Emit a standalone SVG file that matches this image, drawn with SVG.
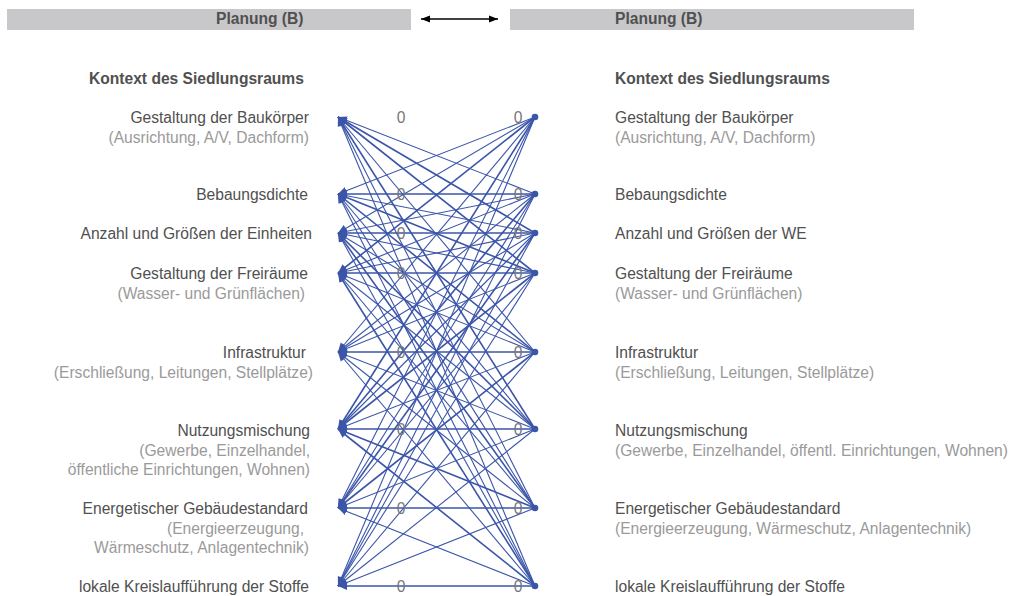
<svg xmlns="http://www.w3.org/2000/svg" width="1017" height="596" viewBox="0 0 1017 596">
  <style>
    .bar { fill: #c8c8ca; }
    .hdr { font-family: "Liberation Sans", Arial, sans-serif; font-size: 15.6px; font-weight: bold; fill: #505050; }
    .lbl { font-family: "Liberation Sans", Arial, sans-serif; font-size: 15.6px; fill: #505050; }
    .sub { font-family: "Liberation Sans", Arial, sans-serif; font-size: 15.6px; fill: #9a9a9a; }
    .zero { font-family: "Liberation Sans", Arial, sans-serif; font-size: 15.6px; fill: #777; text-anchor: middle; }
    .l { text-anchor: end; }
    .edges line { stroke: #3b55a9; stroke-width: 1.1; marker-end: url(#tip); }
    .edges line.w { stroke-width: 1.6; }
    .dot { fill: #3b55a9; }
  </style>
  <defs>
    <marker id="tip" markerUnits="userSpaceOnUse" markerWidth="11" markerHeight="11" refX="9" refY="5.5" orient="auto">
      <path d="M0,1.5 L9,5.5 L0,9.5 z" fill="#3b55a9"/>
    </marker>
    <marker id="blk" markerUnits="userSpaceOnUse" markerWidth="10" markerHeight="10" refX="9" refY="5" orient="auto-start-reverse">
      <path d="M0,1.5 L9,5 L0,8.5 z" fill="#000"/>
    </marker>
  </defs>

  <!-- header bars -->
  <g id="header-left">
    <rect class="bar" x="7" y="9" width="404" height="21"/>
    <text class="hdr" x="216" y="24">Planung (B)</text>
  </g>
  <g id="header-right">
    <rect class="bar" x="510" y="9" width="404" height="21"/>
    <text class="hdr" x="615" y="24">Planung (B)</text>
  </g>
  <g id="header-arrow">
    <line x1="421" y1="19" x2="498" y2="19" stroke="#000" stroke-width="1.4" marker-start="url(#blk)" marker-end="url(#blk)"/>
  </g>

  <!-- column titles -->
  <text class="hdr" x="89" y="84">Kontext des Siedlungsraums</text>
  <text class="hdr" x="615" y="84">Kontext des Siedlungsraums</text>

  <!-- connectors: every right node points to every left node -->
  <g id="connectors" class="edges">
    <line x1="535" y1="117" x2="338" y2="194"/>
    <line x1="535" y1="117" x2="338" y2="233"/>
    <line x1="535" y1="117" x2="338" y2="273" class="w"/>
    <line x1="535" y1="117" x2="338" y2="352"/>
    <line x1="535" y1="117" x2="338" y2="429" class="w"/>
    <line x1="535" y1="117" x2="338" y2="508"/>
    <line x1="535" y1="117" x2="338" y2="586"/>

    <line x1="535" y1="194" x2="338" y2="117"/>
    <line x1="535" y1="194" x2="338" y2="194" class="w"/>
    <line x1="535" y1="194" x2="338" y2="233"/>
    <line x1="535" y1="194" x2="338" y2="273"/>
    <line x1="535" y1="194" x2="338" y2="352"/>
    <line x1="535" y1="194" x2="338" y2="429" class="w"/>
    <line x1="535" y1="194" x2="338" y2="508"/>
    <line x1="535" y1="194" x2="338" y2="586"/>

    <line x1="535" y1="233" x2="338" y2="117" class="w"/>
    <line x1="535" y1="233" x2="338" y2="194"/>
    <line x1="535" y1="233" x2="338" y2="233" class="w"/>
    <line x1="535" y1="233" x2="338" y2="273"/>
    <line x1="535" y1="233" x2="338" y2="352"/>
    <line x1="535" y1="233" x2="338" y2="429"/>
    <line x1="535" y1="233" x2="338" y2="508" class="w"/>
    <line x1="535" y1="233" x2="338" y2="586"/>

    <line x1="535" y1="273" x2="338" y2="117" class="w"/>
    <line x1="535" y1="273" x2="338" y2="194" class="w"/>
    <line x1="535" y1="273" x2="338" y2="233"/>
    <line x1="535" y1="273" x2="338" y2="273" class="w"/>
    <line x1="535" y1="273" x2="338" y2="352"/>
    <line x1="535" y1="273" x2="338" y2="429" class="w"/>
    <line x1="535" y1="273" x2="338" y2="508"/>
    <line x1="535" y1="273" x2="338" y2="586"/>

    <line x1="535" y1="352" x2="338" y2="117"/>
    <line x1="535" y1="352" x2="338" y2="194" class="w"/>
    <line x1="535" y1="352" x2="338" y2="233"/>
    <line x1="535" y1="352" x2="338" y2="273"/>
    <line x1="535" y1="352" x2="338" y2="352" class="w"/>
    <line x1="535" y1="352" x2="338" y2="429"/>
    <line x1="535" y1="352" x2="338" y2="508" class="w"/>
    <line x1="535" y1="352" x2="338" y2="586"/>

    <line x1="535" y1="429" x2="338" y2="117" class="w"/>
    <line x1="535" y1="429" x2="338" y2="194"/>
    <line x1="535" y1="429" x2="338" y2="233" class="w"/>
    <line x1="535" y1="429" x2="338" y2="273"/>
    <line x1="535" y1="429" x2="338" y2="352"/>
    <line x1="535" y1="429" x2="338" y2="429" class="w"/>
    <line x1="535" y1="429" x2="338" y2="508"/>
    <line x1="535" y1="429" x2="338" y2="586"/>

    <line x1="535" y1="508" x2="338" y2="117"/>
    <line x1="535" y1="508" x2="338" y2="194"/>
    <line x1="535" y1="508" x2="338" y2="233" class="w"/>
    <line x1="535" y1="508" x2="338" y2="273"/>
    <line x1="535" y1="508" x2="338" y2="352"/>
    <line x1="535" y1="508" x2="338" y2="429" class="w"/>
    <line x1="535" y1="508" x2="338" y2="508" class="w"/>
    <line x1="535" y1="508" x2="338" y2="586"/>

    <line x1="535" y1="586" x2="338" y2="117"/>
    <line x1="535" y1="586" x2="338" y2="194"/>
    <line x1="535" y1="586" x2="338" y2="233"/>
    <line x1="535" y1="586" x2="338" y2="273" class="w"/>
    <line x1="535" y1="586" x2="338" y2="352"/>
    <line x1="535" y1="586" x2="338" y2="429" class="w"/>
    <line x1="535" y1="586" x2="338" y2="508"/>
    <line x1="535" y1="586" x2="338" y2="586" class="w"/>
  </g>

  <!-- right-hand source points -->
  <g id="source-points">
    <circle class="dot" cx="535" cy="117" r="3.3"/>
    <circle class="dot" cx="535" cy="194" r="3.3"/>
    <circle class="dot" cx="535" cy="233" r="3.3"/>
    <circle class="dot" cx="535" cy="273" r="3.3"/>
    <circle class="dot" cx="535" cy="352" r="3.3"/>
    <circle class="dot" cx="535" cy="429" r="3.3"/>
    <circle class="dot" cx="535" cy="508" r="3.3"/>
    <circle class="dot" cx="535" cy="586" r="3.3"/>
  </g>

  <!-- edge weights -->
  <g id="weights">
    <text class="zero" x="401" y="123">0</text><text class="zero" x="518" y="123">0</text>
    <text class="zero" x="401" y="200">0</text><text class="zero" x="518" y="200">0</text>
    <text class="zero" x="401" y="239">0</text><text class="zero" x="518" y="239">0</text>
    <text class="zero" x="401" y="279">0</text><text class="zero" x="518" y="279">0</text>
    <text class="zero" x="401" y="358">0</text><text class="zero" x="518" y="358">0</text>
    <text class="zero" x="401" y="435">0</text><text class="zero" x="518" y="435">0</text>
    <text class="zero" x="401" y="514">0</text><text class="zero" x="518" y="514">0</text>
    <text class="zero" x="401" y="592">0</text><text class="zero" x="518" y="592">0</text>
  </g>

  <!-- left column nodes -->
  <g id="left-baukoerper">
    <text class="lbl l" x="309" y="123">Gestaltung der Baukörper</text>
    <text class="sub l" x="309" y="143">(Ausrichtung, A/V, Dachform)</text>
  </g>
  <g id="left-dichte">
    <text class="lbl l" x="308" y="200">Bebaungsdichte</text>
  </g>
  <g id="left-einheiten">
    <text class="lbl l" x="312" y="239">Anzahl und Größen der Einheiten</text>
  </g>
  <g id="left-freiraeume">
    <text class="lbl l" x="308" y="279">Gestaltung der Freiräume</text>
    <text class="sub l" x="305" y="299">(Wasser- und Grünflächen)</text>
  </g>
  <g id="left-infrastruktur">
    <text class="lbl l" x="306" y="358">Infrastruktur</text>
    <text class="sub l" x="313" y="378">(Erschließung, Leitungen, Stellplätze)</text>
  </g>
  <g id="left-nutzung">
    <text class="lbl l" x="310" y="436">Nutzungsmischung</text>
    <text class="sub l" x="310" y="456">(Gewerbe, Einzelhandel,</text>
    <text class="sub l" x="310" y="475">öffentliche Einrichtungen, Wohnen)</text>
  </g>
  <g id="left-energie">
    <text class="lbl l" x="308" y="514">Energetischer Gebäudestandard</text>
    <text class="sub l" x="304" y="534">(Energieerzeugung,</text>
    <text class="sub l" x="309" y="553">Wärmeschutz, Anlagentechnik)</text>
  </g>
  <g id="left-kreislauf">
    <text class="lbl l" x="309" y="592">lokale Kreislaufführung der Stoffe</text>
  </g>

  <!-- right column nodes -->
  <g id="right-baukoerper">
    <text class="lbl" x="615" y="123">Gestaltung der Baukörper</text>
    <text class="sub" x="615" y="143">(Ausrichtung, A/V, Dachform)</text>
  </g>
  <g id="right-dichte">
    <text class="lbl" x="615" y="200">Bebaungsdichte</text>
  </g>
  <g id="right-we">
    <text class="lbl" x="615" y="239">Anzahl und Größen der WE</text>
  </g>
  <g id="right-freiraeume">
    <text class="lbl" x="615" y="279">Gestaltung der Freiräume</text>
    <text class="sub" x="615" y="299">(Wasser- und Grünflächen)</text>
  </g>
  <g id="right-infrastruktur">
    <text class="lbl" x="615" y="358">Infrastruktur</text>
    <text class="sub" x="615" y="378">(Erschließung, Leitungen, Stellplätze)</text>
  </g>
  <g id="right-nutzung">
    <text class="lbl" x="615" y="436">Nutzungsmischung</text>
    <text class="sub" x="615" y="456">(Gewerbe, Einzelhandel, öffentl. Einrichtungen, Wohnen)</text>
  </g>
  <g id="right-energie">
    <text class="lbl" x="615" y="514">Energetischer Gebäudestandard</text>
    <text class="sub" x="615" y="534">(Energieerzeugung, Wärmeschutz, Anlagentechnik)</text>
  </g>
  <g id="right-kreislauf">
    <text class="lbl" x="615" y="592">lokale Kreislaufführung der Stoffe</text>
  </g>
</svg>
